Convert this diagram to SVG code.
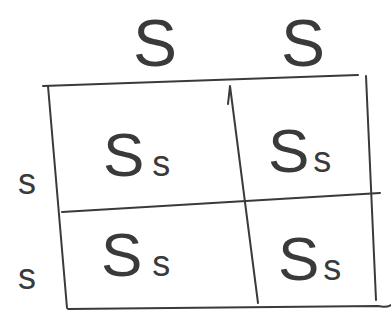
<svg xmlns="http://www.w3.org/2000/svg" width="391" height="320" viewBox="0 0 391 320">
<style>
.ln{fill:none;stroke:#3a3a3a;stroke-width:2;stroke-linecap:round;stroke-linejoin:round}
.t{font-family:"Liberation Sans","DejaVu Sans",sans-serif;fill:#3a3a3a;font-weight:normal}
.big{font-size:66px}
.cell{font-size:62px}
.sub{font-size:36px}
.side{font-size:36px}
</style>
<rect width="391" height="320" fill="#fff"/>
<g id="connectors">
<path class="ln" d="M43,86 L358,75"/>
<path class="ln" d="M48,86 L67,308"/>
<path class="ln" d="M230,86 L258,303 M230,86 L228,104"/>
<path class="ln" d="M366,76 L376,300"/>
<path class="ln" d="M62,212 L380,193"/>
<path class="ln" d="M68,309 L378,306 Q386,308 391,305"/>
</g>
<g id="top-S1"><text class="t big" x="155" y="66" text-anchor="middle">S</text></g>
<g id="top-S2"><text class="t big" x="303" y="66" text-anchor="middle">S</text></g>
<g id="side-s1"><text class="t side" x="27" y="194" text-anchor="middle">s</text></g>
<g id="side-s2"><text class="t side" x="27" y="289" text-anchor="middle">s</text></g>
<g id="cell-11"><text class="t cell" x="103" y="176">S<tspan class="sub" dx="8">s</tspan></text></g>
<g id="cell-12"><text class="t cell" x="268" y="172">S<tspan class="sub" dx="4">s</tspan></text></g>
<g id="cell-21"><text class="t cell" x="101" y="276">S<tspan class="sub" dx="10">s</tspan></text></g>
<g id="cell-22"><text class="t cell" x="278" y="280">S<tspan class="sub" dx="4">s</tspan></text></g>
</svg>
